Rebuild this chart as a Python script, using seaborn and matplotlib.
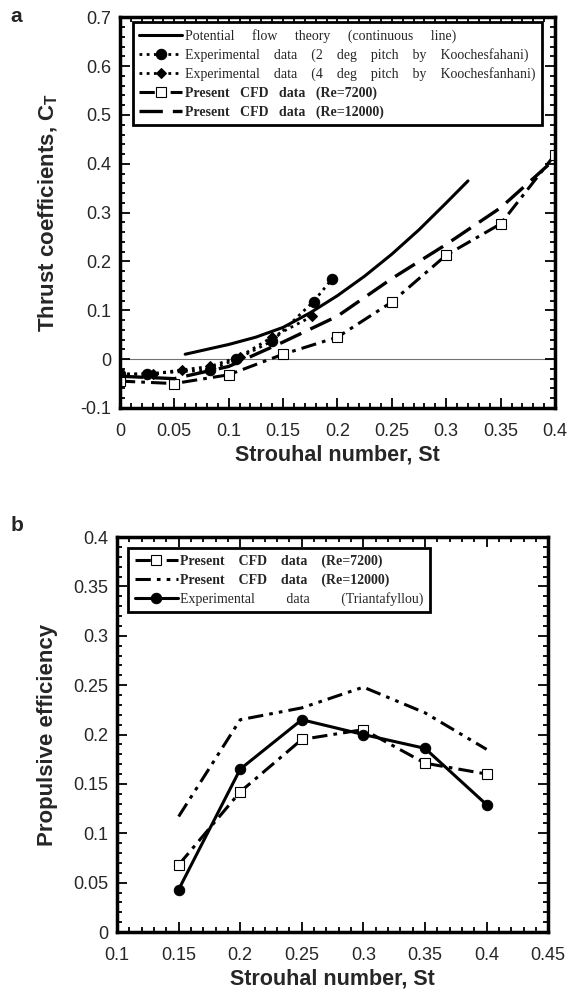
import numpy as np
import pandas as pd
import matplotlib
matplotlib.use("Agg")
import matplotlib.pyplot as plt
from matplotlib.ticker import MultipleLocator, FuncFormatter
import seaborn as sns

# ---- panel a: thrust coefficient vs Strouhal number ----
st_theory = [0.06, 0.08, 0.10, 0.125, 0.15, 0.175, 0.20, 0.225, 0.25, 0.275, 0.30, 0.32]
ct_theory = [0.010, 0.020, 0.030, 0.045, 0.065, 0.095, 0.130, 0.170, 0.215, 0.265, 0.320, 0.365]

st_exp2 = [0.0, 0.025, 0.083, 0.107, 0.14, 0.178, 0.195]
ct_exp2 = [-0.03, -0.03, -0.022, 0.0, 0.037, 0.118, 0.164]

st_exp4 = [0.0, 0.03, 0.057, 0.083, 0.11, 0.14, 0.177]
ct_exp4 = [-0.032, -0.03, -0.022, -0.015, 0.005, 0.045, 0.088]

st_cfd = [0.0, 0.05, 0.10, 0.15, 0.20, 0.25, 0.30, 0.35, 0.40]
ct_cfd7200 = [-0.045, -0.05, -0.032, 0.01, 0.045, 0.117, 0.213, 0.277, 0.419]
ct_cfd12000 = [-0.035, -0.04, -0.015, 0.035, 0.088, 0.165, 0.235, 0.31, 0.41]

# ---- panel b: propulsive efficiency vs Strouhal number ----
st_b = [0.15, 0.20, 0.25, 0.30, 0.35, 0.40]
eff_cfd7200 = [0.068, 0.142, 0.195, 0.205, 0.171, 0.160]
eff_cfd12000 = [0.117, 0.215, 0.227, 0.248, 0.222, 0.185]
eff_triant = [0.043, 0.165, 0.215, 0.200, 0.186, 0.129]

sns.set_style("ticks")
plt.rcParams["font.family"] = ["Liberation Sans", "DejaVu Sans"]
plt.rcParams["mathtext.fontset"] = "custom"
plt.rcParams["mathtext.rm"] = "Liberation Sans"
plt.rcParams["mathtext.bf"] = "Liberation Sans:bold"

fig = plt.figure(figsize=(5.71, 9.89), dpi=100)
ax1 = fig.add_axes([0.210, 0.5875, 0.762, 0.395])
ax2 = fig.add_axes([0.205, 0.0576, 0.755, 0.3994])

k = "black"
dashdot = (0, (5, 2, 1.2, 2))
longdash = (0, (7, 3))
dotted = (0, (1, 1.6))
sq = dict(marker="s", markersize=7, markerfacecolor="white", markeredgecolor=k, markeredgewidth=0.8)

def gap(s, n):
    return (" " * n).join(s.split(" "))

ax1.axhline(0, color="0.45", lw=0.8, zorder=0)
sns.lineplot(x=st_theory, y=ct_theory, ax=ax1, color=k, lw=2.2,
             label=gap("Potential flow theory (continuous line)", 5))
sns.lineplot(x=st_exp2, y=ct_exp2, ax=ax1, color=k, lw=2.0, linestyle=dotted,
             marker="o", markersize=7.5, markeredgecolor=k, markerfacecolor=k,
             label=gap("Experimental data (2 deg pitch by Koochesfahani)", 4))
sns.lineplot(x=st_exp4, y=ct_exp4, ax=ax1, color=k, lw=2.0, linestyle=dotted,
             marker="D", markersize=5, markeredgecolor=k, markerfacecolor=k,
             label=gap("Experimental data (4 deg pitch by Koochesfanhani)", 4))
sns.lineplot(x=st_cfd, y=ct_cfd7200, ax=ax1, color=k, lw=2.2, linestyle=dashdot,
             label=gap("Present CFD data (Re=7200)", 3), **sq)
sns.lineplot(x=st_cfd, y=ct_cfd12000, ax=ax1, color=k, lw=2.4, linestyle=longdash,
             label=gap("Present CFD data (Re=12000)", 3))

sns.lineplot(x=st_b, y=eff_cfd7200, ax=ax2, color=k, lw=2.2, linestyle=dashdot,
             label=gap("Present CFD data (Re=7200)", 4), **sq)
sns.lineplot(x=st_b, y=eff_cfd12000, ax=ax2, color=k, lw=2.2, linestyle=(0, (5, 2, 1.2, 2, 1.2, 2)),
             label=gap("Present CFD data (Re=12000)", 4))
sns.lineplot(x=st_b, y=eff_triant, ax=ax2, color=k, lw=2.2,
             marker="o", markersize=7.5, markeredgecolor=k, markerfacecolor=k,
             label=gap("Experimental data (Triantafyllou)", 9))

fmt = FuncFormatter(lambda v, p: "%g" % round(v, 4))
for ax in (ax1, ax2):
    ax.xaxis.set_major_locator(MultipleLocator(0.05))
    ax.xaxis.set_minor_locator(MultipleLocator(0.01))
    ax.xaxis.set_major_formatter(fmt)
    ax.yaxis.set_major_formatter(fmt)
    ax.tick_params(which="both", direction="in", top=True, right=True, width=1.3,
                   labelsize=13, color=k)
    ax.tick_params(which="major", length=7, pad=6)
    ax.tick_params(axis="x", which="major", pad=11)
    ax.tick_params(which="minor", length=3.5)
    for s in ax.spines.values():
        s.set_linewidth(2.5)
        s.set_color(k)
    ax.set_xlabel("Strouhal number, St", fontsize=15.5, fontweight="bold", labelpad=3)

ax1.set_xlim(0, 0.4)
ax1.set_ylim(-0.1, 0.7)
ax1.yaxis.set_major_locator(MultipleLocator(0.1))
ax1.yaxis.set_minor_locator(MultipleLocator(0.02))
ax1.set_ylabel(r"Thrust coefficients, C$_\mathbf{T}$", fontsize=16, fontweight="bold", labelpad=15)

ax2.set_xlim(0.1, 0.45)
ax2.set_ylim(0, 0.4)
ax2.yaxis.set_major_locator(MultipleLocator(0.05))
ax2.yaxis.set_minor_locator(MultipleLocator(0.01))
ax2.set_ylabel("Propulsive efficiency", fontsize=16, fontweight="bold", labelpad=11)

leg_kw = dict(prop={"family": ["Liberation Serif", "DejaVu Serif"], "size": 10},
              handlelength=3.1, handletextpad=0.2, borderpad=0.45, labelspacing=0.38,
              fancybox=False, edgecolor=k, framealpha=1, borderaxespad=0)
leg1 = ax1.legend(loc="upper left", bbox_to_anchor=(0.03, 0.987), **leg_kw)
leg1.get_frame().set_linewidth(2.0)
for i in (3, 4):
    leg1.get_texts()[i].set_fontweight("bold")

leg2 = ax2.legend(loc="upper left", bbox_to_anchor=(0.026, 0.972), **leg_kw)
leg2.get_frame().set_linewidth(2.0)
for i in (0, 1):
    leg2.get_texts()[i].set_fontweight("bold")

fig.text(0.018, 0.993, "a", fontsize=15, fontweight="bold", va="top")
fig.text(0.018, 0.478, "b", fontsize=15, fontweight="bold", va="top")

fig.savefig("out.png", dpi=100)
